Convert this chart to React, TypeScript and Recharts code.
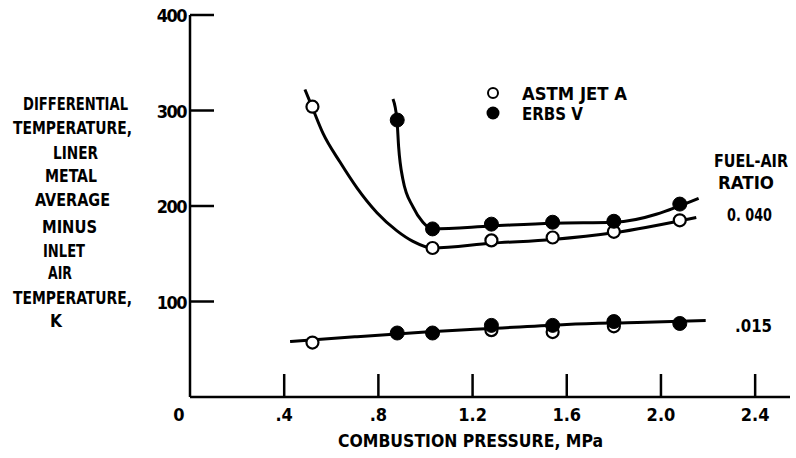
import React from "react";
import { ComposedChart, Line, Scatter, XAxis, YAxis } from "recharts";

// Measured data points (combustion pressure MPa, differential temperature K)
const astm040 = [
  { p: 0.52, t: 304 }, { p: 1.03, t: 156 }, { p: 1.28, t: 164 },
  { p: 1.54, t: 167 }, { p: 1.8, t: 173 }, { p: 2.08, t: 185 },
];
const erbs040 = [
  { p: 0.88, t: 290 }, { p: 1.03, t: 176 }, { p: 1.28, t: 181 },
  { p: 1.54, t: 183 }, { p: 1.8, t: 184 }, { p: 2.08, t: 202 },
];
const astm015 = [
  { p: 0.52, t: 57 }, { p: 1.28, t: 70 }, { p: 1.54, t: 68 }, { p: 1.8, t: 74 },
];
const erbs015 = [
  { p: 0.88, t: 67 }, { p: 1.03, t: 67 }, { p: 1.28, t: 75 },
  { p: 1.54, t: 75 }, { p: 1.8, t: 79 }, { p: 2.08, t: 77 },
];

// Faired curves
const astmCurve040 = [
  { p: 0.488, t: 322 }, { p: 0.518, t: 304 }, { p: 0.565, t: 276 },
  { p: 0.637, t: 246 }, { p: 0.709, t: 219 }, { p: 0.794, t: 193 },
  { p: 0.879, t: 174 }, { p: 0.947, t: 163 }, { p: 1.03, t: 156 },
  { p: 1.28, t: 161 }, { p: 1.54, t: 165 }, { p: 1.8, t: 172 }, { p: 2.15, t: 188 },
];
const erbsCurve040 = [
  { p: 0.862, t: 312 }, { p: 0.879, t: 290 }, { p: 0.886, t: 262 },
  { p: 0.904, t: 228 }, { p: 0.947, t: 199 }, { p: 0.989, t: 183 },
  { p: 1.03, t: 176 }, { p: 1.28, t: 179 }, { p: 1.54, t: 182 },
  { p: 1.8, t: 183 }, { p: 2.16, t: 208 },
];
const curve015 = [
  { p: 0.425, t: 58 }, { p: 0.7, t: 63 }, { p: 1.0, t: 68 }, { p: 1.3, t: 72 },
  { p: 1.6, t: 76 }, { p: 1.9, t: 78 }, { p: 2.19, t: 80 },
];

const xTicks = [0, 0.4, 0.8, 1.2, 1.6, 2.0, 2.4];
const xTickLabels = ["0", ".4", ".8", "1.2", "1.6", "2.0", "2.4"];
const yTicks = [0, 100, 200, 300, 400];
const yTickLabels = ["", "100", "200", "300", "400"];

const yTitleLines = [
  "DIFFERENTIAL", "TEMPERATURE,", "LINER", "METAL", "AVERAGE",
  "MINUS", "INLET", "AIR", "TEMPERATURE,", "K",
];
const xTitle = "COMBUSTION PRESSURE, MPa";
const legendNames = ["ASTM JET A", "ERBS V"];
const ratioTitle = ["FUEL-AIR", "RATIO"];
const ratioLabels = ["0. 040", ".015"];

const FONT = '"DejaVu Sans Condensed", "Liberation Sans Narrow", "DejaVu Sans", sans-serif';

const XTick = (props: any) => {
  const { x, y, payload } = props;
  const idx = xTicks.indexOf(payload.value);
  const label = idx >= 0 ? xTickLabels[idx] : String(payload.value);
  const isZero = payload.value === 0;
  return (
    <g>
      {!isZero && <line x1={x} y1={y} x2={x} y2={y - 23} stroke="#000" strokeWidth={2.5} />}
      <text x={isZero ? x - 11 : x} y={y + 24} textAnchor="middle" fontFamily={FONT}
        fontWeight="bold" fontSize={18} fill="#000">{label}</text>
    </g>
  );
};

const YTick = (props: any) => {
  const { x, y, payload } = props;
  const idx = yTicks.indexOf(payload.value);
  const label = idx >= 0 ? yTickLabels[idx] : "";
  if (payload.value === 0) return <g />;
  return (
    <g>
      <line x1={x} y1={y} x2={x + 24} y2={y} stroke="#000" strokeWidth={2.5} />
      <text x={x - 4} y={y + 7} textAnchor="end" fontFamily={FONT}
        fontWeight="bold" fontSize={18} fill="#000" letterSpacing={-1.5}>{label}</text>
    </g>
  );
};

const OpenDot = (props: any) => (
  <circle cx={props.cx} cy={props.cy} r={6} fill="#fff" stroke="#000" strokeWidth={2.2} />
);
const FilledDot = (props: any) => (
  <circle cx={props.cx} cy={props.cy} r={7} fill="#000" stroke="#000" strokeWidth={1} />
);

// text layout: [left x, center y, width]
const yTitlePos: [number, number, number][] = [
  [23, 103, 105], [13, 127, 119], [53, 152, 45], [45, 175, 52], [35, 199, 75],
  [42, 226, 55], [43, 250, 42], [48, 272, 24], [13, 297, 119], [50, 320, 12],
];

const T = (p: { x: number; cy: number; w: number; children: React.ReactNode; size?: number }) => (
  <text x={p.x} y={p.cy + 7} fontFamily={FONT} fontWeight="bold" fontSize={p.size || 18}
    fill="#000" textLength={p.w} lengthAdjust="spacingAndGlyphs">{p.children}</text>
);

export default function App() {
  return (
    <div style={{ position: "absolute", left: 0, top: 0, width: 796, height: 458, background: "#fff" }}>
      <ComposedChart width={796} height={458}
        margin={{ top: 15, right: 6, bottom: 31, left: 150 }}>
        <XAxis type="number" dataKey="p" domain={[0, 2.548]} ticks={xTicks} interval={0}
          allowDataOverflow axisLine={{ stroke: "#000", strokeWidth: 2.5 }} tickLine={false}
          tickSize={0} tickMargin={0} height={30} tick={<XTick />} />
        <YAxis type="number" dataKey="t" domain={[0, 400]} ticks={yTicks} interval={0}
          allowDataOverflow axisLine={{ stroke: "#000", strokeWidth: 2.5 }} tickLine={false}
          tickSize={0} tickMargin={0} width={40} tick={<YTick />} />
        <Line data={astmCurve040} dataKey="t" type="monotone" stroke="#000" strokeWidth={3}
          dot={false} isAnimationActive={false} />
        <Line data={erbsCurve040} dataKey="t" type="monotone" stroke="#000" strokeWidth={3}
          dot={false} isAnimationActive={false} />
        <Line data={curve015} dataKey="t" type="monotone" stroke="#000" strokeWidth={3}
          dot={false} isAnimationActive={false} />
        <Scatter name="ASTM JET A" data={astm040} dataKey="t" shape={OpenDot} isAnimationActive={false} />
        <Scatter name="ASTM JET A" data={astm015} dataKey="t" shape={OpenDot} isAnimationActive={false} />
        <Scatter name="ERBS V" data={erbs040} dataKey="t" shape={FilledDot} isAnimationActive={false} />
        <Scatter name="ERBS V" data={erbs015} dataKey="t" shape={FilledDot} isAnimationActive={false} />
      </ComposedChart>
      <svg width={796} height={458} style={{ position: "absolute", left: 0, top: 0, pointerEvents: "none" }}>
        {yTitleLines.map((s, i) => (
          <T key={i} x={yTitlePos[i][0]} cy={yTitlePos[i][1]} w={yTitlePos[i][2]}>{s}</T>
        ))}
        <T x={338} cy={440} w={265}>{xTitle}</T>
        <circle cx={493} cy={93} r={5} fill="#fff" stroke="#000" strokeWidth={2} />
        <T x={522} cy={93} w={105}>{legendNames[0]}</T>
        <circle cx={493} cy={113} r={6.5} fill="#000" />
        <T x={522} cy={113} w={61}>{legendNames[1]}</T>
        <T x={714} cy={160} w={74}>{ratioTitle[0]}</T>
        <T x={718} cy={182} w={56}>{ratioTitle[1]}</T>
        <T x={727} cy={214} w={45}>{ratioLabels[0]}</T>
        <T x={735} cy={325} w={37}>{ratioLabels[1]}</T>
      </svg>
    </div>
  );
}
